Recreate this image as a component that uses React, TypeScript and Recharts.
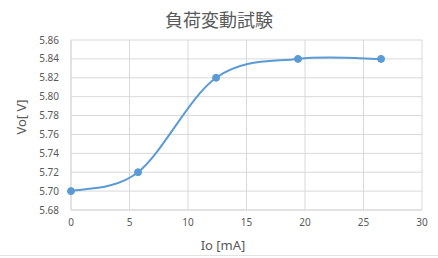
import React from 'react';
import { LineChart, Line, XAxis, YAxis, CartesianGrid } from 'recharts';

const ioValues = [0, 5.73, 12.4, 19.4, 26.5];
const voValues = [5.70, 5.72, 5.82, 5.84, 5.84];
const xTicks = [0, 5, 10, 15, 20, 25, 30];
const yTicks = [5.68, 5.70, 5.72, 5.74, 5.76, 5.78, 5.80, 5.82, 5.84, 5.86];
const title = '負荷変動試験';
const xTitle = 'Io [mA]';
const yTitle = 'Vo[ V]';

const data = ioValues.map((x, i) => ({ x, y: voValues[i] }));

const TEXT = '#595959';
const GRID = '#d9d9d9';
const BLUE = '#5B9BD5';

// Excel-like smooth curve (Catmull-Rom style bezier)
function excelCurve(context: any) {
  let pts: [number, number][] = [];
  return {
    areaStart() {},
    areaEnd() {},
    lineStart() {
      pts = [];
    },
    lineEnd() {
      const n = pts.length;
      if (n === 0) return;
      context.moveTo(pts[0][0], pts[0][1]);
      if (n === 1) return;
      for (let i = 0; i < n - 1; i++) {
        const p0 = pts[i - 1] || pts[i];
        const p1 = pts[i];
        const p2 = pts[i + 1];
        const p3 = pts[i + 2] || pts[i + 1];
        const c1x = p1[0] + (p2[0] - p0[0]) / 6;
        const c1y = p1[1] + (p2[1] - p0[1]) / 6;
        const c2x = p2[0] - (p3[0] - p1[0]) / 6;
        const c2y = p2[1] - (p3[1] - p1[1]) / 6;
        context.bezierCurveTo(c1x, c1y, c2x, c2y, p2[0], p2[1]);
      }
    },
    point(x: number, y: number) {
      pts.push([+x, +y]);
    },
  };
}

const tickStyle = { fontFamily: 'Noto Sans', fontSize: 10, fill: TEXT };

export default function App() {
  return (
    <div style={{ position: 'absolute', left: 0, top: 0, width: 438, height: 258, background: '#fff' }}>
      <div
        style={{
          position: 'absolute',
          left: 0,
          top: 6,
          width: 438,
          textAlign: 'center',
          fontFamily: '"Noto Sans CJK JP"',
          fontSize: 18,
          lineHeight: '26px',
          color: TEXT,
        }}
      >
        {title}
      </div>
      <LineChart
        width={438}
        height={258}
        data={data}
        margin={{ top: 40, right: 16, bottom: 8, left: 31 }}
      >
        <CartesianGrid stroke={GRID} strokeWidth={1} />
        <XAxis
          type="number"
          dataKey="x"
          domain={[0, 30]}
          ticks={xTicks}
          interval={0}
          height={40}
          tickSize={0}
          tickMargin={9}
          axisLine={{ stroke: GRID }}
          tick={tickStyle}
        />
        <YAxis
          type="number"
          dataKey="y"
          domain={[5.68, 5.86]}
          ticks={yTicks}
          interval={0}
          width={40}
          tickSize={0}
          tickMargin={12}
          axisLine={{ stroke: GRID }}
          tick={tickStyle}
          tickFormatter={(v: number) => v.toFixed(2)}
        />
        <Line
          type={excelCurve as any}
          dataKey="y"
          stroke={BLUE}
          strokeWidth={2}
          dot={{ r: 3.5, fill: BLUE, stroke: BLUE, strokeWidth: 1 }}
          activeDot={false}
          isAnimationActive={false}
        />
        <text
          x={223}
          y={250}
          textAnchor="middle"
          fontFamily="Noto Sans"
          fontSize={13}
          fill={TEXT}
        >
          {xTitle}
        </text>
        <text
          x={26}
          y={117}
          textAnchor="middle"
          fontFamily="Noto Sans"
          fontSize={13}
          fill={TEXT}
          transform="rotate(-90 26 117)"
        >
          {yTitle}
        </text>
      </LineChart>
      <div style={{ position: 'absolute', left: 0, top: 255, width: 438, height: 1, background: '#e3e3e3' }} />
    </div>
  );
}
